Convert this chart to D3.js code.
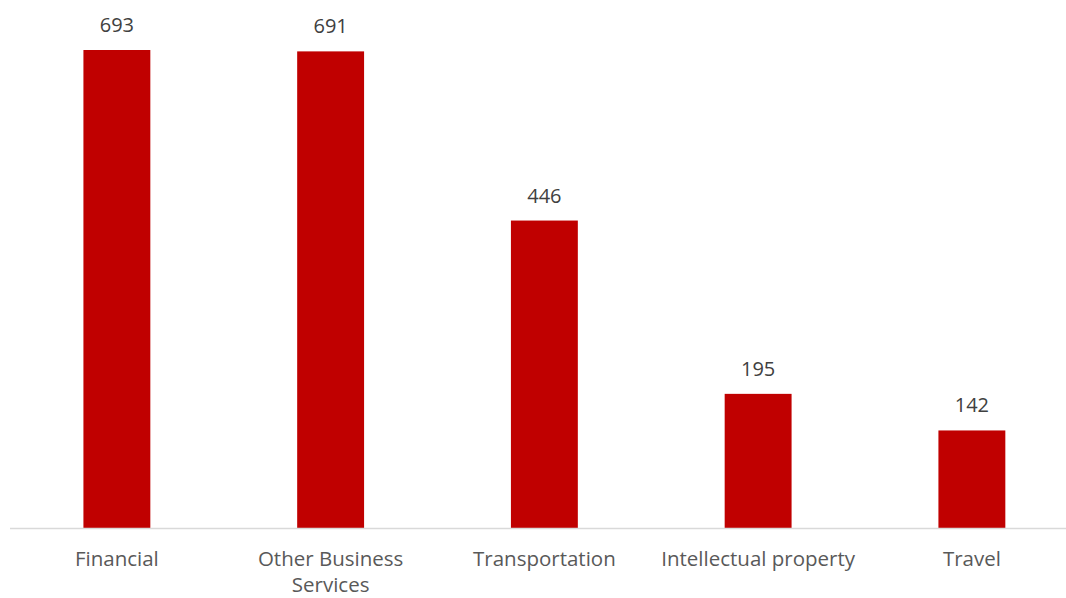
<!DOCTYPE html>
<html>
<head>
<meta charset="utf-8">
<script src="https://cdn.jsdelivr.net/npm/d3@7"></script>
<style>
  html, body { margin: 0; padding: 0; background: #fff; }
  svg { display: block; }
</style>
</head>
<body>
<svg id="chart" width="1066" height="598"></svg>
<script>
// Service categories and their values
const categories = ["Financial", "Other Business Services", "Transportation", "Intellectual property", "Travel"];
const values = [693, 691, 446, 195, 142];
// Category labels split into lines
const labelLines = [["Financial"], ["Other Business", "Services"], ["Transportation"], ["Intellectual property"], ["Travel"]];

const svg = d3.select("#chart");
const left = 10, right = 1078.75, baseY = 528.5, topY = 50;

const x = d3.scaleBand()
  .domain(categories)
  .range([left, right])
  .paddingInner(0.687)
  .paddingOuter(0.3435);

const y = d3.scaleLinear()
  .domain([0, 693])
  .range([baseY, topY]);

const font = "'Open Sans', sans-serif";

// Bars
svg.append("g").selectAll("rect")
  .data(categories)
  .join("rect")
  .attr("x", d => x(d))
  .attr("width", x.bandwidth())
  .attr("y", (d, i) => y(values[i]))
  .attr("height", (d, i) => y(0) - y(values[i]))
  .attr("fill", "#c00000");

// Baseline axis
const axis = d3.axisBottom(x).tickSize(0).tickFormat("");
const ag = svg.append("g").attr("transform", `translate(0,${baseY})`).call(axis);
ag.select(".domain").attr("stroke", "#d9d9d9").attr("stroke-width", 1.5)
  .attr("d", `M${left},0H${right}`);

// Value labels
svg.append("g").selectAll("text")
  .data(categories)
  .join("text")
  .attr("x", d => x(d) + x.bandwidth() / 2)
  .attr("y", (d, i) => y(values[i]) - 18)
  .attr("text-anchor", "middle")
  .attr("font-family", font)
  .attr("font-size", 20)
  .attr("fill", "#404040")
  .text((d, i) => values[i]);

// Category labels
const cl = svg.append("g").selectAll("text")
  .data(categories)
  .join("text")
  .attr("x", d => x(d) + x.bandwidth() / 2)
  .attr("y", 566)
  .attr("text-anchor", "middle")
  .attr("font-family", font)
  .attr("font-size", 20.5)
  .attr("fill", "#595959");
cl.each(function(d, i) {
  const t = d3.select(this);
  labelLines[i].forEach((line, j) => {
    t.append("tspan")
      .attr("x", x(d) + x.bandwidth() / 2)
      .attr("dy", j === 0 ? 0 : 25.5)
      .text(line);
  });
});
</script>
</body>
</html>
